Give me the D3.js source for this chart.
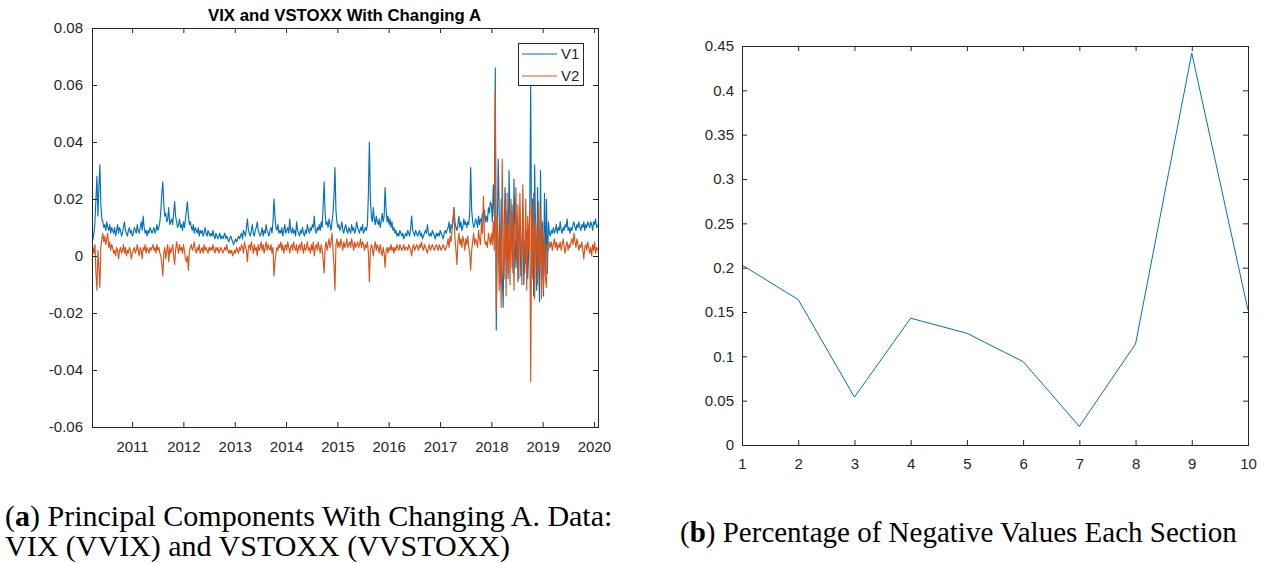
<!DOCTYPE html>
<html>
<head>
<meta charset="utf-8">
<script src="https://cdn.jsdelivr.net/npm/d3@7/dist/d3.min.js"></script>
<style>
  html, body { margin: 0; padding: 0; background: #fff; }
  svg { display: block; }
  .tick text { font-family: "Liberation Sans", Arial, sans-serif; font-size: 15px; fill: #262626; }
  .tick line { stroke: #262626; }
  .caption { font-family: "Liberation Serif", "Times New Roman", serif; fill: #000; }
</style>
</head>
<body>
<svg id="fig" width="1270" height="564"></svg>
<script>
// ---- Panel (a): weekly principal components, first observation 22 Mar 2010 ----
const seriesStart = new Date(2010, 2, 22);
const seriesNames = ["V1", "V2"];
const v1 = [
0.005,0.006,0.008,0.012,0.020,0.028,0.014,0.024,0.032,0.018,0.013,0.012,0.010,0.011,0.009,0.012,0.010,0.009,0.011,0.008,0.010,
0.009,0.008,0.010,0.007,0.009,0.011,0.008,0.010,0.009,0.007,0.008,0.010,0.012,0.009,0.008,0.007,0.009,0.010,0.008,0.009,
0.007,0.008,0.010,0.009,0.008,0.011,0.009,0.008,0.010,0.012,0.009,0.014,0.010,0.008,0.009,0.007,0.009,0.008,0.010,0.009,
0.008,0.009,0.010,0.008,0.009,0.011,0.009,0.010,0.012,0.016,0.022,0.026,0.018,0.014,0.015,0.012,0.013,0.017,0.011,0.012,
0.013,0.011,0.015,0.019,0.014,0.012,0.010,0.011,0.013,0.010,0.011,0.009,0.012,0.010,0.013,0.016,0.019,0.014,0.011,0.012,
0.010,0.009,0.011,0.008,0.010,0.009,0.008,0.010,0.007,0.009,0.008,0.009,0.007,0.008,0.010,0.008,0.007,0.009,0.008,0.007,
0.008,0.007,0.009,0.007,0.006,0.008,0.007,0.006,0.007,0.008,0.006,0.007,0.006,0.007,0.008,0.006,0.007,0.006,0.005,0.006,
0.007,0.006,0.005,0.004,0.005,0.006,0.005,0.006,0.007,0.006,
0.007,0.008,0.006,0.009,0.008,0.007,0.010,0.013,0.009,0.008,0.007,0.009,0.011,0.008,0.007,0.009,0.010,0.012,0.009,0.008,
0.007,0.008,0.010,0.007,0.009,0.008,0.011,0.009,0.008,0.007,0.009,0.010,0.008,0.012,0.020,0.014,0.010,0.009,0.011,0.008,
0.009,0.008,0.010,0.007,0.009,0.011,0.008,0.009,0.010,0.008,
0.013,0.009,0.008,0.010,0.008,0.009,0.007,0.012,0.009,0.008,0.007,0.009,0.008,0.010,0.008,0.007,0.009,0.008,0.011,0.009,
0.008,0.010,0.009,0.011,0.010,0.014,0.009,0.008,0.010,0.009,0.011,0.009,0.012,0.010,0.018,0.026,0.015,0.011,0.012,0.010,
0.013,0.011,0.009,0.012,0.015,0.021,0.031,0.016,0.012,0.010,
0.011,0.009,0.010,0.012,0.009,0.008,0.010,0.011,0.009,0.008,0.010,0.009,0.008,0.011,0.009,0.010,0.008,0.009,0.012,0.010,
0.009,0.008,0.010,0.009,0.011,0.008,0.009,0.010,0.009,0.011,0.022,0.040,0.020,0.014,0.012,0.017,0.013,0.011,0.014,0.012,
0.011,0.013,0.010,0.012,0.015,0.012,0.014,0.024,0.016,0.012,
0.014,0.011,0.013,0.010,0.012,0.009,0.010,0.008,0.009,0.007,0.008,0.007,0.009,0.008,0.007,0.008,0.006,0.007,0.008,0.007,
0.009,0.008,0.007,0.010,0.014,0.009,0.008,0.007,0.009,0.008,0.007,0.008,0.009,0.007,0.008,0.006,0.007,0.008,0.009,0.008,
0.011,0.008,0.007,0.008,0.007,0.009,0.008,0.007,0.006,0.008,0.007,0.008,0.007,0.009,0.008,0.007,0.006,0.008,0.009,0.008,
0.009,0.010,0.012,0.008,0.011,0.010,0.013,0.017,0.012,0.010,0.009,0.011,0.014,0.010,0.012,0.009,0.010,0.013,0.011,0.012,
0.010,0.012,0.011,0.015,0.031,0.016,0.012,0.010,0.011,0.013,0.012,0.010,0.014,0.011,0.013,0.012,0.015,0.013,0.016,0.012,
0.014,0.012,0.017,0.015,0.019,
0.018,0.012,0.025,0.014,0.066,-0.026,0.008,0.034,0.015,-0.010,0.020,-0.005,-0.018,0.010,0.024,0.004,0.016,-0.008,0.030,0.012,
0.002,0.018,-0.006,0.027,0.008,-0.004,0.014,-0.009,0.006,0.010,-0.007,0.004,0.012,-0.010,0.005,-0.003,0.009,-0.008,0.002,0.014,
0.060,-0.005,0.020,-0.014,0.032,0.006,-0.012,0.024,-0.002,-0.016,0.030,-0.008,0.012,-0.014,0.022,-0.006,0.020,-0.006,0.012,0.008,
0.007,0.009,0.008,0.010,0.008,0.009,0.011,0.008,0.010,0.009,0.012,0.009,0.008,0.010,0.009,0.011,0.010,0.013,0.009,0.010,
0.008,0.010,0.009,0.011,0.012,0.010,0.009,0.011,0.010,0.012,0.010,0.009,0.011,0.010,0.012,0.009,0.011,0.010,0.012,0.011,
0.010,0.012,0.011,0.009,0.012,0.011,0.013,0.010,0.011
];
const v2 = [
0.002,0.003,0.001,0.004,-0.006,-0.012,0.002,-0.004,-0.011,0.003,0.006,0.008,0.005,0.007,0.004,0.006,0.008,0.003,0.005,0.002,0.004,
0.003,0.001,0.002,0.000,0.003,0.002,-0.001,0.002,0.003,0.001,0.002,0.004,0.001,0.003,0.000,0.002,0.001,0.003,0.002,-0.001,
0.001,0.002,0.003,0.001,0.002,0.004,0.002,0.000,0.003,0.002,-0.001,0.003,0.002,0.004,0.001,0.003,0.002,0.001,0.003,0.002,
0.003,0.004,0.002,0.003,0.001,0.004,0.002,0.003,0.001,0.000,-0.003,-0.007,0.001,0.003,-0.001,0.002,0.004,-0.002,0.003,0.001,
0.002,0.004,0.000,-0.003,0.002,0.005,0.003,0.001,0.004,0.002,0.003,0.001,0.004,0.002,-0.001,-0.002,0.000,-0.005,0.002,0.003,
0.004,0.002,0.003,0.005,0.002,0.001,0.003,0.002,0.004,0.001,0.002,0.003,0.001,0.004,0.002,0.003,0.002,0.001,0.003,0.002,
0.003,0.002,0.004,0.002,0.001,0.003,0.002,0.003,0.001,0.002,0.003,0.002,0.001,0.002,0.003,0.002,0.004,0.002,0.001,0.002,
0.001,0.002,0.000,0.001,0.002,0.001,0.003,0.002,0.001,0.003,
0.002,0.004,0.003,0.001,0.005,0.003,0.002,-0.002,0.003,0.004,0.002,0.005,0.003,0.001,0.004,0.002,0.003,0.000,0.004,0.002,
0.003,0.005,0.002,0.004,0.001,0.003,0.005,0.002,0.004,0.003,0.002,0.004,0.001,0.003,-0.007,-0.002,0.001,0.003,0.002,0.004,
0.003,0.005,0.002,0.004,0.001,0.003,0.004,0.002,0.005,0.003,
0.001,0.003,0.004,0.002,0.005,0.003,0.002,0.004,0.001,0.003,0.004,0.002,0.005,0.003,0.001,0.004,0.002,0.003,0.005,0.002,
0.003,0.001,0.004,0.002,0.005,0.000,0.003,0.004,0.002,0.005,0.003,0.001,0.004,0.002,-0.001,-0.006,0.003,0.005,0.002,0.004,
0.006,0.003,0.005,0.008,0.002,-0.003,-0.012,0.004,0.006,0.003,
0.005,0.003,0.006,0.004,0.002,0.005,0.003,0.004,0.006,0.003,0.004,0.005,0.003,0.006,0.004,0.002,0.005,0.003,0.004,0.005,
0.003,0.004,0.006,0.003,0.005,0.004,0.002,0.004,0.003,0.005,0.001,-0.009,0.002,0.004,0.003,0.000,0.003,0.005,0.002,0.004,
0.003,0.001,0.004,0.002,0.000,0.003,0.001,-0.004,0.002,0.003,
0.001,0.003,0.002,0.004,0.002,0.003,0.001,0.003,0.002,0.004,0.003,0.002,0.004,0.003,0.002,0.003,0.004,0.002,0.003,0.003,
0.002,0.004,0.003,0.002,0.000,0.003,0.004,0.002,0.003,0.004,0.003,0.002,0.004,0.003,0.005,0.003,0.002,0.004,0.003,0.002,
0.001,0.003,0.004,0.002,0.003,0.004,0.003,0.002,0.003,0.004,0.003,0.002,0.004,0.003,0.002,0.003,0.004,0.003,0.002,0.003,
0.004,0.006,0.003,0.007,0.005,0.009,0.012,0.017,0.006,0.002,-0.003,0.005,0.008,0.004,0.006,0.003,0.007,0.005,0.002,0.006,
0.004,0.007,0.003,0.001,-0.005,0.002,0.005,0.008,0.004,0.006,0.005,0.003,0.009,0.006,0.004,0.012,0.008,0.021,0.006,0.004,
0.005,0.003,0.008,0.006,0.004,
0.008,0.004,0.012,0.002,0.058,-0.019,0.014,0.006,-0.012,0.010,-0.018,0.034,0.004,-0.008,0.018,-0.014,0.022,-0.006,0.012,-0.010,
0.020,-0.004,0.016,-0.012,0.008,0.024,-0.002,0.018,-0.008,0.022,0.004,-0.010,0.025,0.006,-0.006,0.020,-0.012,0.014,0.002,0.016,
-0.044,0.018,-0.008,0.022,-0.015,0.012,0.004,-0.010,0.019,-0.004,0.016,-0.015,0.010,-0.012,0.008,-0.008,-0.011,0.004,0.002,0.005,
0.003,0.005,0.002,0.004,0.006,0.003,0.005,0.002,0.004,0.003,0.005,0.002,0.004,0.006,0.003,0.001,0.004,0.005,0.002,0.004,
0.003,0.005,0.006,0.004,0.008,0.005,0.003,0.006,0.004,0.002,0.004,0.003,0.005,0.002,-0.001,0.003,0.004,0.002,0.005,0.003,
0.001,0.003,0.000,0.004,0.002,0.005,0.001,0.003,0.002
];
const yTicksA = [-0.06, -0.04, -0.02, 0, 0.02, 0.04, 0.06, 0.08];
const yearTicks = [2011, 2012, 2013, 2014, 2015, 2016, 2017, 2018, 2019, 2020];

// ---- Panel (b): share of negative values per section ----
const sections = [1, 2, 3, 4, 5, 6, 7, 8, 9, 10];
const negShare = [0.203, 0.164, 0.054, 0.143, 0.126, 0.094, 0.021, 0.114, 0.442, 0.152];
const yTicksB = [0, 0.05, 0.1, 0.15, 0.2, 0.25, 0.3, 0.35, 0.4, 0.45];

const blue = "#0072BD", orange = "#D95319", axisCol = "#262626";
const fmt = d => String(+d.toFixed(2));

const svg = d3.select("#fig");

function frame(g, xAxisB, yAxisL, xAxisT, yAxisR, W, H) {
  g.append("g").attr("transform", `translate(0,${H})`).call(xAxisB);
  g.append("g").call(yAxisL);
  g.append("g").call(xAxisT);
  g.append("g").attr("transform", `translate(${W},0)`).call(yAxisR);
  g.selectAll(".domain").remove();
  g.append("rect").attr("width", W).attr("height", H)
    .attr("fill", "none").attr("stroke", axisCol).attr("stroke-width", 1)
    .attr("shape-rendering", "crispEdges");
}

// Panel (a)
{
  const L = 92, T = 28, W = 506, H = 399;
  const g = svg.append("g").attr("transform", `translate(${L},${T})`);
  const dates = v1.map((_, i) => d3.timeDay.offset(seriesStart, 7 * i));
  const x = d3.scaleTime().domain([new Date(2010, 2, 22), new Date(2020, 0, 30)]).range([0, W]);
  const y = d3.scaleLinear().domain([-0.06, 0.08]).range([H, 0]);
  const yearDates = yearTicks.map(yr => new Date(yr, 0, 1));

  g.append("defs").append("clipPath").attr("id", "clipA")
    .append("rect").attr("width", W).attr("height", H);

  const line = d3.line().x((d, i) => x(dates[i])).y(d => y(d));
  const plot = g.append("g").attr("clip-path", "url(#clipA)");
  [v1, v2].forEach((s, k) => {
    plot.append("path").datum(s).attr("d", line)
      .attr("fill", "none").attr("stroke", k ? orange : blue)
      .attr("stroke-width", 1.15).attr("stroke-linejoin", "round");
  });

  frame(g,
    d3.axisBottom(x).tickValues(yearDates).tickFormat(d3.timeFormat("%Y")).tickSizeInner(-5).tickSizeOuter(0).tickPadding(14),
    d3.axisLeft(y).tickValues(yTicksA).tickFormat(fmt).tickSizeInner(-5).tickSizeOuter(0).tickPadding(9),
    d3.axisTop(x).tickValues(yearDates).tickFormat("").tickSizeInner(-5).tickSizeOuter(0),
    d3.axisRight(y).tickValues(yTicksA).tickFormat("").tickSizeInner(-5).tickSizeOuter(0),
    W, H);

  g.append("text").attr("x", W / 2 - 0.5).attr("y", -7.5).attr("text-anchor", "middle")
    .style("font-family", "'Liberation Sans', Arial, sans-serif").style("font-size", "16.8px")
    .style("font-weight", "bold").attr("fill", "#000").text("VIX and VSTOXX With Changing A");

  // legend
  const lg = g.append("g").attr("transform", `translate(${518 - L},${43 - T})`);
  lg.append("rect").attr("width", 65).attr("height", 42).attr("fill", "#fff")
    .attr("stroke", axisCol).attr("shape-rendering", "crispEdges");
  seriesNames.forEach((n, k) => {
    const yy = 11 + k * 22;
    lg.append("line").attr("x1", 4).attr("x2", 39).attr("y1", yy).attr("y2", yy)
      .attr("stroke", k ? orange : blue).attr("stroke-width", 1);
    lg.append("text").attr("x", 43).attr("y", yy + 5)
      .style("font-family", "'Liberation Sans', Arial, sans-serif").style("font-size", "15px")
      .attr("fill", axisCol).text(n);
  });
}

// Panel (b)
{
  const L = 742, T = 46, W = 506, H = 399;
  const g = svg.append("g").attr("transform", `translate(${L},${T})`);
  const x = d3.scaleLinear().domain([1, 10]).range([0, W]);
  const y = d3.scaleLinear().domain([0, 0.45]).range([H, 0]);

  g.append("path").datum(negShare)
    .attr("d", d3.line().x((d, i) => x(sections[i])).y(d => y(d)))
    .attr("fill", "none").attr("stroke", blue).attr("stroke-width", 1);

  frame(g,
    d3.axisBottom(x).tickValues(sections).tickFormat(d3.format("d")).tickSizeInner(-5).tickSizeOuter(0).tickPadding(13),
    d3.axisLeft(y).tickValues(yTicksB).tickFormat(fmt).tickSizeInner(-5).tickSizeOuter(0).tickPadding(8),
    d3.axisTop(x).tickValues(sections).tickFormat("").tickSizeInner(-5).tickSizeOuter(0),
    d3.axisRight(y).tickValues(yTicksB).tickFormat("").tickSizeInner(-5).tickSizeOuter(0),
    W, H);
}

// Captions
const capA = svg.append("text").attr("class", "caption").style("font-size", "30px");
capA.append("tspan").attr("x", 5).attr("y", 526).text("(");
capA.append("tspan").style("font-weight", "bold").text("a");
capA.append("tspan").text(") Principal Components With Changing A. Data:");
capA.append("tspan").attr("x", 5).attr("y", 556).text("VIX (VVIX) and VSTOXX (VVSTOXX)");

const capB = svg.append("text").attr("class", "caption").style("font-size", "29px")
  .attr("x", 680).attr("y", 542);
capB.append("tspan").text("(");
capB.append("tspan").style("font-weight", "bold").text("b");
capB.append("tspan").text(") Percentage of Negative Values Each Section");
</script>
</body>
</html>
